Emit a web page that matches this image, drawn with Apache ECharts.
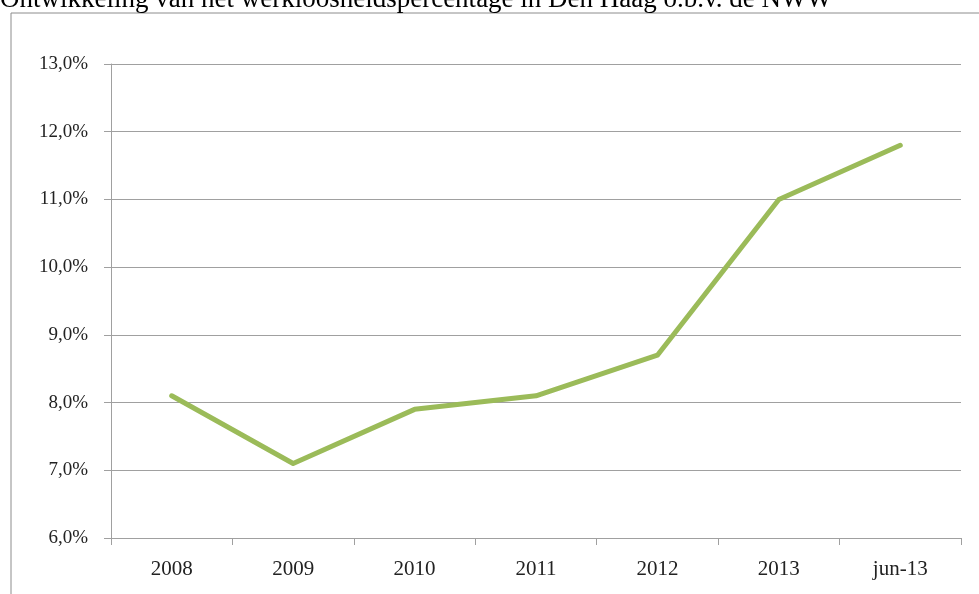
<!DOCTYPE html>
<html>
<head>
<meta charset="utf-8">
<script src="https://cdn.jsdelivr.net/npm/echarts@6/dist/echarts.min.js"></script>
<style>
html,body{margin:0;padding:0;background:#fff;}
#c{width:979px;height:594px;}
</style>
</head>
<body>
<div id="c"></div>
<script>
const titleText = 'Ontwikkeling van het werkloosheidspercentage in Den Haag o.b.v. de NWW';
const categories = ['2008', '2009', '2010', '2011', '2012', '2013', 'jun-13'];
const werkloosheid = [8.1, 7.1, 7.9, 8.1, 8.7, 11.0, 11.8];
const yMin = 6, yMax = 13, yStep = 1;

const chart = echarts.init(document.getElementById('c'), null, {renderer: 'canvas'});
const font = '"Liberation Serif", "DejaVu Serif", serif';
chart.setOption({
  animation: false,
  backgroundColor: '#fff',
  graphic: [
    {
      type: 'rect', silent: true, z: 0,
      shape: {x: 11, y: 13, width: 1200, height: 800},
      style: {fill: 'none', stroke: '#8c8c8c', lineWidth: 1}
    },
    {
      type: 'text', silent: true, z: 10,
      x: 0, y: 13,
      style: {
        text: titleText, fill: '#000',
        font: '27px "Liberation Serif", serif',
        textVerticalAlign: 'bottom', verticalAlign: 'bottom'
      }
    }
  ],
  grid: {left: 111, right: 18, top: 64, bottom: 56, containLabel: false},
  xAxis: {
    type: 'category',
    data: categories,
    boundaryGap: true,
    axisLine: {show: true, lineStyle: {color: '#a0a0a0', width: 1}},
    axisTick: {show: true, length: 7, lineStyle: {color: '#a0a0a0'}},
    axisLabel: {margin: 21, fontFamily: font, fontSize: 21, color: '#222'},
    splitLine: {show: false}
  },
  yAxis: {
    type: 'value',
    min: yMin, max: yMax, interval: yStep,
    axisLine: {show: true, lineStyle: {color: '#a0a0a0', width: 1}},
    axisTick: {show: true, length: 7, lineStyle: {color: '#a0a0a0'}},
    axisLabel: {
      margin: 23, fontFamily: font, fontSize: 19, color: '#222',
      formatter: v => v.toFixed(1).replace('.', ',') + '%'
    },
    splitLine: {show: true, lineStyle: {color: '#a0a0a0', width: 1}}
  },
  series: [{
    type: 'line',
    data: werkloosheid,
    symbol: 'none',
    smooth: false,
    lineStyle: {color: '#9BBB59', width: 5, cap: 'round', join: 'round'}
  }]
});
</script>
</body>
</html>
